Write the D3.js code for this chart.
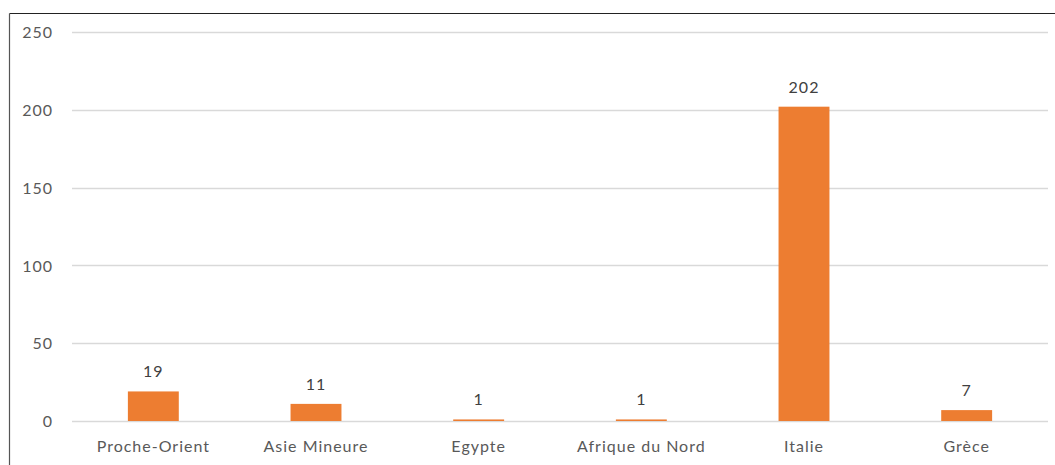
<!DOCTYPE html>
<html>
<head>
<meta charset="utf-8">
<script src="https://cdn.jsdelivr.net/npm/d3@7"></script>
<style>
  body { margin: 0; background: #fff; }
  svg text { font-family: Lato, "Open Sans", sans-serif; fill: #595959; }
</style>
</head>
<body>
<svg id="chart" width="1055" height="465"></svg>
<script>
// chart data
var categories = ["Proche-Orient", "Asie Mineure", "Egypte", "Afrique du Nord", "Italie", "Grèce"];
var values = [19, 11, 1, 1, 202, 7];
var yTicks = [0, 50, 100, 150, 200, 250];

var svg = d3.select('#chart');
var plot = { left: 72, right: 1048, top: 32, bottom: 421 };

// outer frame (top and left edges visible)
svg.append('line')
	.attr('x1', 9.5).attr('x2', 1055)
	.attr('y1', 13.5).attr('y2', 13.5)
	.style('stroke', '#222').style('stroke-width', 1.2);
svg.append('line')
	.attr('x1', 9.5).attr('x2', 9.5)
	.attr('y1', 13.5).attr('y2', 465)
	.style('stroke', '#555').style('stroke-width', 1.2);

var x = d3.scaleBand()
	.domain(categories)
	.range([plot.left, plot.right]);

var y = d3.scaleLinear()
	.domain([0, 250])
	.range([plot.bottom, plot.top]);

//Gridlines
svg.append('g')
	.selectAll('line')
	.data(yTicks)
	.enter()
	.append('line')
		.attr('x1', plot.left)
		.attr('x2', plot.right)
		.attr('y1', d => Math.round(y(d)) + 0.5)
		.attr('y2', d => Math.round(y(d)) + 0.5)
		.style('stroke', '#d9d9d9')
		.style('stroke-width', 1.3);

//Y axis labels
var yAxis = d3.axisLeft(y).tickValues(yTicks).tickSize(0).tickPadding(0);
svg.append('g')
	.attr('transform', 'translate(53,0)')
	.call(yAxis)
	.call(g => g.select('.domain').remove())
	.selectAll('text')
		.style('font-size', '16px')
		.style('letter-spacing', '1px')
		.attr('dy', '0.35em');

//Bars
var barW = x.bandwidth() * 0.313;
svg.append('g')
	.selectAll('rect')
	.data(values)
	.enter()
	.append('rect')
		.attr('x', (d, i) => x(categories[i]) + x.bandwidth() / 2 - barW / 2)
		.attr('width', barW)
		.attr('y', d => y(d))
		.attr('height', d => y(0) - y(d))
		.style('fill', '#ed7d31');

//Data labels
svg.append('g')
	.selectAll('text')
	.data(values)
	.enter()
	.append('text')
		.attr('x', (d, i) => x(categories[i]) + x.bandwidth() / 2)
		.attr('y', d => y(d) - 14)
		.attr('text-anchor', 'middle')
		.style('font-size', '16px')
		.style('letter-spacing', '1px')
		.style('fill', '#404040')
		.text(d => d);

//Category labels
var xAxis = d3.axisBottom(x).tickSize(0).tickPadding(0);
svg.append('g')
	.attr('transform', 'translate(0,' + (plot.bottom + 20) + ')')
	.call(xAxis)
	.call(g => g.select('.domain').remove())
	.selectAll('text')
		.style('font-size', '16px')
		.attr('dy', '0.71em')
		.style('letter-spacing', '1px');
</script>
</body>
</html>
